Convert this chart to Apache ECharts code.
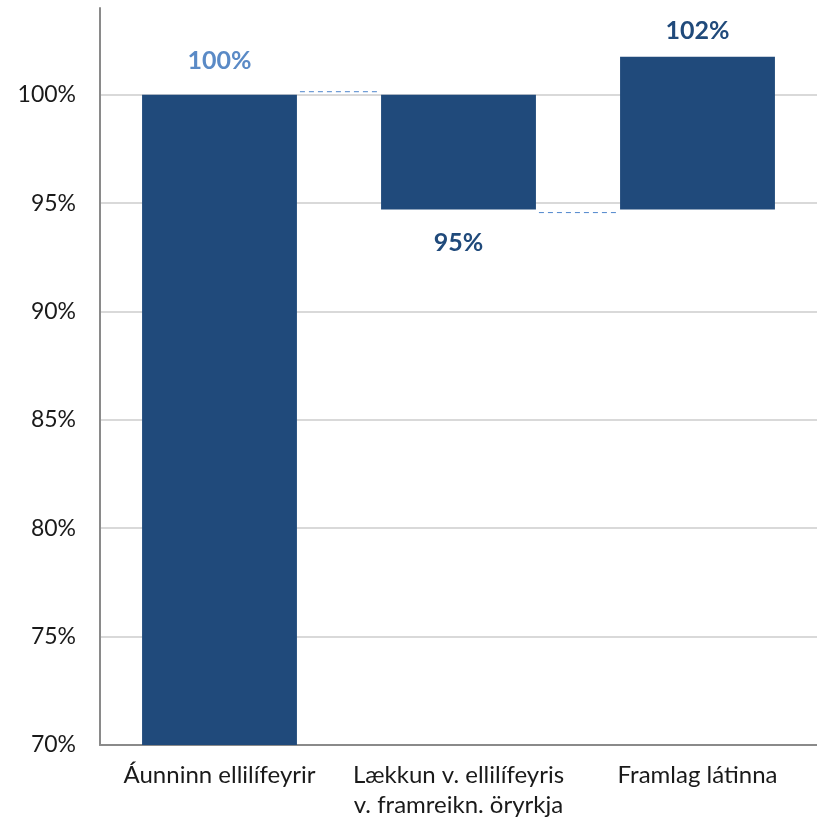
<!DOCTYPE html>
<html>
<head>
<meta charset="utf-8">
<script src="https://cdn.jsdelivr.net/npm/echarts@6/dist/echarts.min.js"></script>
<style>
  html, body { margin: 0; padding: 0; background: #fff; }
  #chart { width: 817px; height: 826px; }
</style>
</head>
<body>
<div id="chart"></div>
<script>
// Waterfall: earned pension, reduction, contribution of the deceased
const categories = [
  'Áunninn ellilífeyrir',
  'Lækkun v. ellilífeyris\nv. framreikn. öryrkja',
  'Framlag látinna'
];
// bottom and top of each floating bar (percent)
const barLow  = [0, 94.7, 94.7];
const barHigh = [100, 100, 101.75];
// value shown on each bar's label
const labelValue = [100, 94.7, 101.75];
// levels carried between bars by the dashed connectors
const connectorLevel = [100, 94.7];
const yTicks = [70, 75, 80, 85, 90, 95, 100];

const AXIS_MIN = 70, AXIS_MAX = 104;
const barColor = '#204a7b';
const labelColors = ['#5a8ac6', '#204a7b', '#204a7b'];
const labelSide = [1, -1, 1];          // 1 = above the bar, -1 = below
const labelGap = [34, 33, 26];
const font = 'Lato, "Open Sans", sans-serif';

const chart = echarts.init(document.getElementById('chart'));

chart.setOption({
  animation: false,
  grid: { left: 100, right: 0, top: 8, bottom: 81, containLabel: false },
  xAxis: {
    type: 'category',
    data: categories,
    boundaryGap: true,
    axisLine: { show: true, lineStyle: { color: '#8a8a8a', width: 2 } },
    axisTick: { show: false },
    axisLabel: {
      color: '#1a1a1a', fontFamily: font, fontSize: 24,
      margin: 15, lineHeight: 30, interval: 0
    }
  },
  yAxis: {
    type: 'value',
    min: AXIS_MIN, max: AXIS_MAX, interval: 5,
    axisLine: { show: true, lineStyle: { color: '#8a8a8a', width: 2 } },
    axisTick: { show: false },
    splitLine: { show: true, showMaxLine: false, lineStyle: { color: '#d9d9d9', width: 2 } },
    axisLabel: {
      color: '#1a1a1a', fontFamily: font, fontSize: 23, margin: 24,
      showMaxLabel: false,
      formatter: v => (yTicks.indexOf(v) >= 0 ? v + '%' : '')
    }
  },
  series: [
    {
      // floating bars with value labels
      type: 'custom',
      data: categories.map((c, i) => [i, barLow[i], barHigh[i], labelValue[i]]),
      renderItem: (params, api) => {
        const i = api.value(0);
        const lo = Math.max(api.value(1), AXIS_MIN);
        const hi = api.value(2);
        const w = api.size([1, 0])[0] * 0.648;
        const pLo = api.coord([i, lo]);
        const pHi = api.coord([i, hi]);
        const idx = params.dataIndex;
        const side = labelSide[idx];
        const anchorY = side > 0 ? pHi[1] : pLo[1];
        return {
          type: 'group',
          children: [
            {
              type: 'rect',
              shape: { x: pHi[0] - w / 2, y: pHi[1], width: w, height: pLo[1] - pHi[1] },
              style: { fill: barColor }
            },
            {
              type: 'text',
              x: pHi[0], y: anchorY - side * labelGap[idx],
              style: {
                text: Math.round(api.value(3)) + '%',
                fill: labelColors[idx],
                font: 'bold 25px ' + font,
                align: 'center', verticalAlign: 'middle'
              }
            }
          ]
        };
      }
    },
    {
      // dashed connectors between consecutive bars
      type: 'custom',
      data: connectorLevel.map((v, i) => [i, v]),
      renderItem: (params, api) => {
        const i = api.value(0);
        const level = api.value(1);
        const w = api.size([1, 0])[0] * 0.648;
        const a = api.coord([i, level]);
        const b = api.coord([i + 1, level]);
        const shift = params.dataIndex === 0 ? -3 : 3;
        return {
          type: 'line',
          shape: { x1: a[0] + w / 2 + 3, y1: a[1] + shift, x2: b[0] - w / 2 - 4, y2: b[1] + shift },
          style: { stroke: '#4f86cc', lineWidth: 1, lineDash: [5, 4] }
        };
      }
    }
  ]
});
</script>
</body>
</html>
